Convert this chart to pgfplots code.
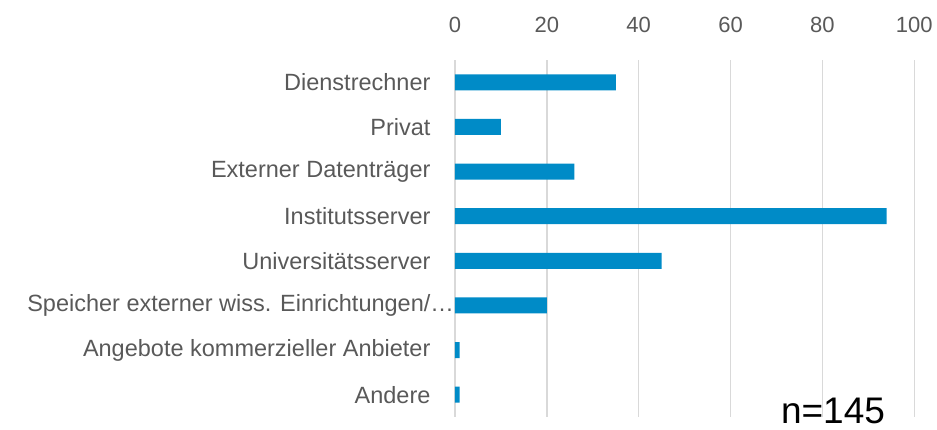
\documentclass[border=0pt]{standalone}
\usepackage{pgfplots}
\pgfplotsset{compat=1.18}
\usepackage{fontspec}
\setmainfont{Liberation Sans}
\definecolor{barblue}{HTML}{008BC7}
\definecolor{txtgray}{HTML}{595959}
\definecolor{gridgray}{HTML}{D9D9D9}
\begin{document}
\begin{tikzpicture}
\useasboundingbox (-455pt,-13pt) rectangle (482pt,417pt);
\begin{axis}[
  at={(0,0)}, anchor=south west,
  scale only axis,
  width=459.3pt, height=357pt,
  xmin=0, xmax=100,
  ymin=-0.5, ymax=7.5,
  y dir=reverse,
  xbar, bar width=16pt,
  xtick={0,20,40,60,80,100},
  xticklabel pos=top,
  ytick={0,1,2,3,4,5,6,7},
  yticklabels={Dienstrechner,Privat,Externer Datenträger,Institutsserver,Universitätsserver,{Speicher externer wiss. Einrichtungen/\rlap{…}},Angebote kommerzieller Anbieter,Andere},
  axis line style={draw=none},
  major tick length=0pt,
  xmajorgrids,
  grid style={gridgray, line width=1.5pt},
  yticklabel style={font=\fontsize{23.5}{28}\selectfont, text=txtgray, xshift=-21pt},
  xticklabel style={font=\fontsize{22}{26}\selectfont, text=txtgray, yshift=24pt},
  /pgf/number format/assume math mode=true,
  clip=false,
]
\addplot[fill=barblue, draw=none] coordinates {
 (35,0) (10,1) (26,2) (94,3) (45,4) (20,5) (1,6) (1,7)
};
\node[anchor=base, font=\fontsize{37}{42}\selectfont, text=black, inner sep=0pt] at (axis cs:82.3,7.64) {n=145};
\end{axis}
\end{tikzpicture}
\end{document}
